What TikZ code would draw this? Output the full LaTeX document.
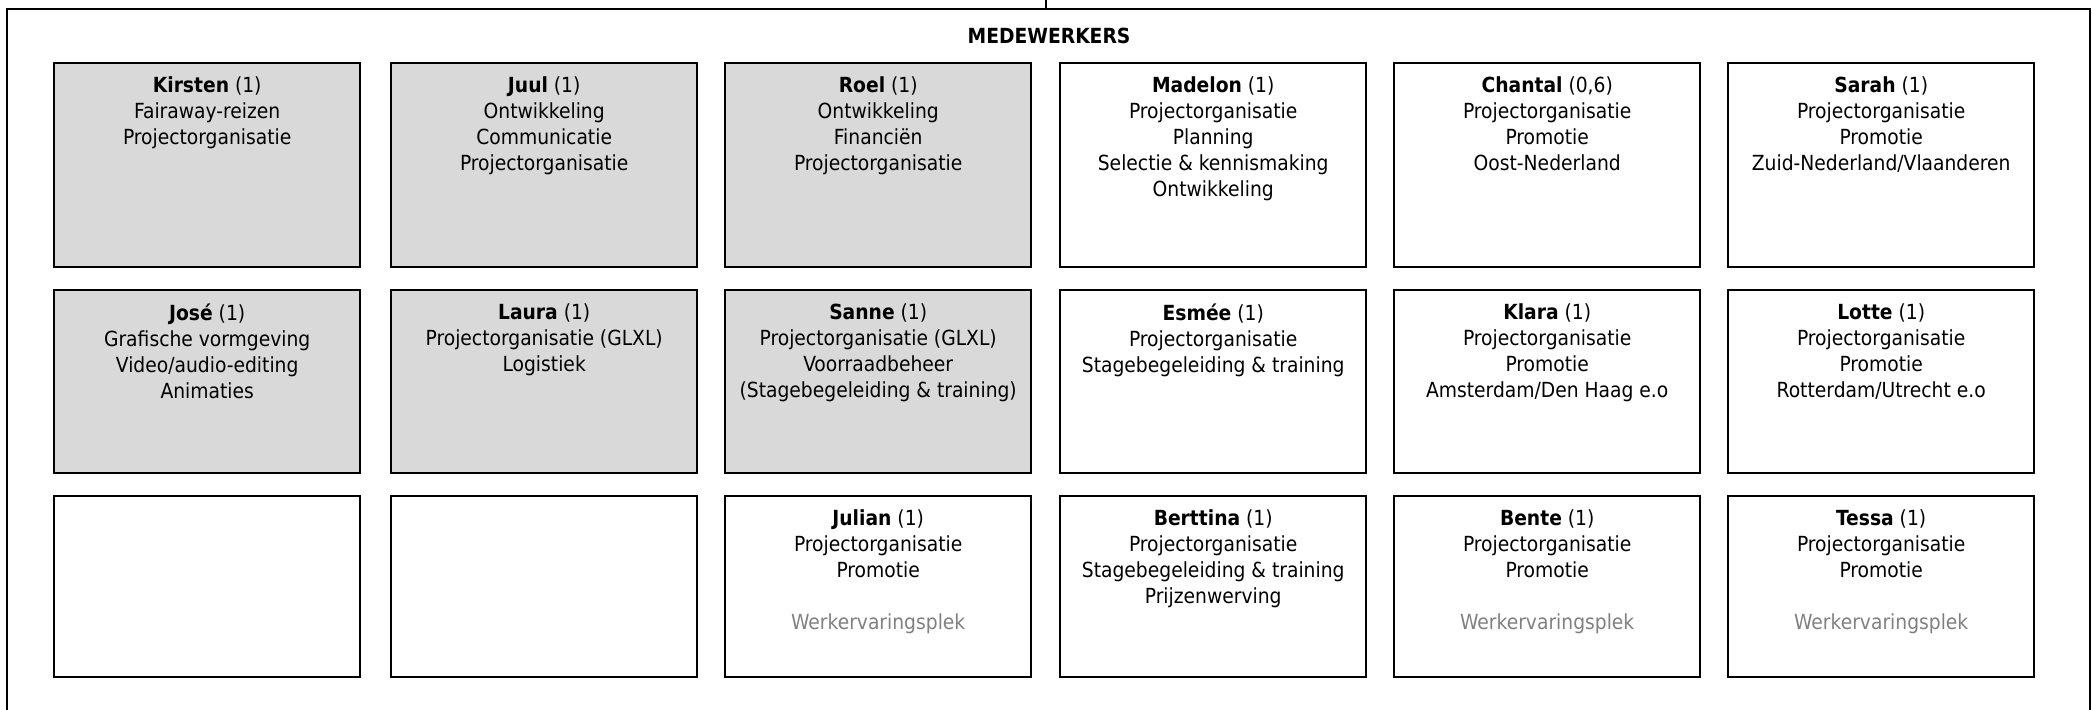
\documentclass[tikz,border=0pt]{standalone}
\usepackage{fontspec}
\setmainfont{DejaVu Sans Condensed}

\definecolor{vakgrijs}{HTML}{D9D9D9}
\definecolor{tekstgrijs}{HTML}{808080}

\begin{document}
\begin{tikzpicture}[x=0.5pt, y=-0.5pt,
    every node/.style={font=\fontsize{10.4pt}{13pt}\selectfont},
    kader/.style={line width=1.2pt},
    vak/.style={draw, line width=1.2pt, anchor=north west, inner sep=0pt, minimum width=153pt},
    grijsvak/.style={vak, fill=vakgrijs},
    rij1/.style={minimum height=102pt},
    rij2/.style={minimum height=91.5pt},
    rij3/.style={minimum height=90.5pt},
    tekst/.style={anchor=north, align=center, inner sep=0pt, yshift=-7pt}]

                \useasboundingbox (0,0) rectangle (2092,709);

                % Frame
                \draw[kader] (7,760) |- (2090,9) -- (2090,760);
                \coordinate (boven) at (1046,0);
                \draw[line width=0.8pt] (boven) -- ++(0,9);
                \node[font=\fontsize{10.4pt}{13pt}\selectfont\bfseries] (titel) at (1049,36) {MEDEWERKERS};

                % Row 1
                \node[grijsvak, rij1, label={[tekst]north:{\textbf{Kirsten} (1)\\Fairaway-reizen\\Projectorganisatie}}] (kirsten) at (53,62) {};
                \node[grijsvak, rij1, label={[tekst]north:{\textbf{Juul} (1)\\Ontwikkeling\\Communicatie\\Projectorganisatie}}] (juul) at (390,62) {};
                \node[grijsvak, rij1, label={[tekst]north:{\textbf{Roel} (1)\\Ontwikkeling\\Financiën\\Projectorganisatie}}] (roel) at (724,62) {};
                \node[vak, rij1, label={[tekst]north:{\textbf{Madelon} (1)\\Projectorganisatie\\Planning\\Selectie \& kennismaking\\Ontwikkeling}}] (madelon) at (1059,62) {};
                \node[vak, rij1, label={[tekst]north:{\textbf{Chantal} (0,6)\\Projectorganisatie\\Promotie\\Oost-Nederland}}] (chantal) at (1393,62) {};
                \node[vak, rij1, label={[tekst]north:{\textbf{Sarah} (1)\\Projectorganisatie\\Promotie\\Zuid-Nederland/Vlaanderen}}] (sarah) at (1727,62) {};

                % Row 2
                \node[grijsvak, rij2, label={[tekst]north:{\textbf{José} (1)\\Grafische vormgeving\\Video/audio-editing\\Animaties}}] (jose) at (53,289) {};
                \node[grijsvak, rij2, label={[tekst]north:{\textbf{Laura} (1)\\Projectorganisatie (GLXL)\\Logistiek}}] (laura) at (390,289) {};
                \node[grijsvak, rij2, label={[tekst]north:{\textbf{Sanne} (1)\\Projectorganisatie (GLXL)\\Voorraadbeheer\\(Stagebegeleiding \& training)}}] (sanne) at (724,289) {};
                \node[vak, rij2, label={[tekst]north:{\textbf{Esmée} (1)\\Projectorganisatie\\Stagebegeleiding \& training}}] (esmee) at (1059,289) {};
                \node[vak, rij2, label={[tekst]north:{\textbf{Klara} (1)\\Projectorganisatie\\Promotie\\Amsterdam/Den Haag e.o}}] (klara) at (1393,289) {};
                \node[vak, rij2, label={[tekst]north:{\textbf{Lotte} (1)\\Projectorganisatie\\Promotie\\Rotterdam/Utrecht e.o}}] (lotte) at (1727,289) {};

                % Row 3
                \node[vak, rij3] (leeg1) at (53,495) {};
                \node[vak, rij3] (leeg2) at (390,495) {};
                \node[vak, rij3, label={[tekst]north:{\textbf{Julian} (1)\\Projectorganisatie\\Promotie\\[13pt]\textcolor{tekstgrijs}{Werkervaringsplek}}}] (julian) at (724,495) {};
                \node[vak, rij3, label={[tekst]north:{\textbf{Berttina} (1)\\Projectorganisatie\\Stagebegeleiding \& training\\Prijzenwerving}}] (berttina) at (1059,495) {};
                \node[vak, rij3, label={[tekst]north:{\textbf{Bente} (1)\\Projectorganisatie\\Promotie\\[13pt]\textcolor{tekstgrijs}{Werkervaringsplek}}}] (bente) at (1393,495) {};
                \node[vak, rij3, label={[tekst]north:{\textbf{Tessa} (1)\\Projectorganisatie\\Promotie\\[13pt]\textcolor{tekstgrijs}{Werkervaringsplek}}}] (tessa) at (1727,495) {};

\end{tikzpicture}
\end{document}
